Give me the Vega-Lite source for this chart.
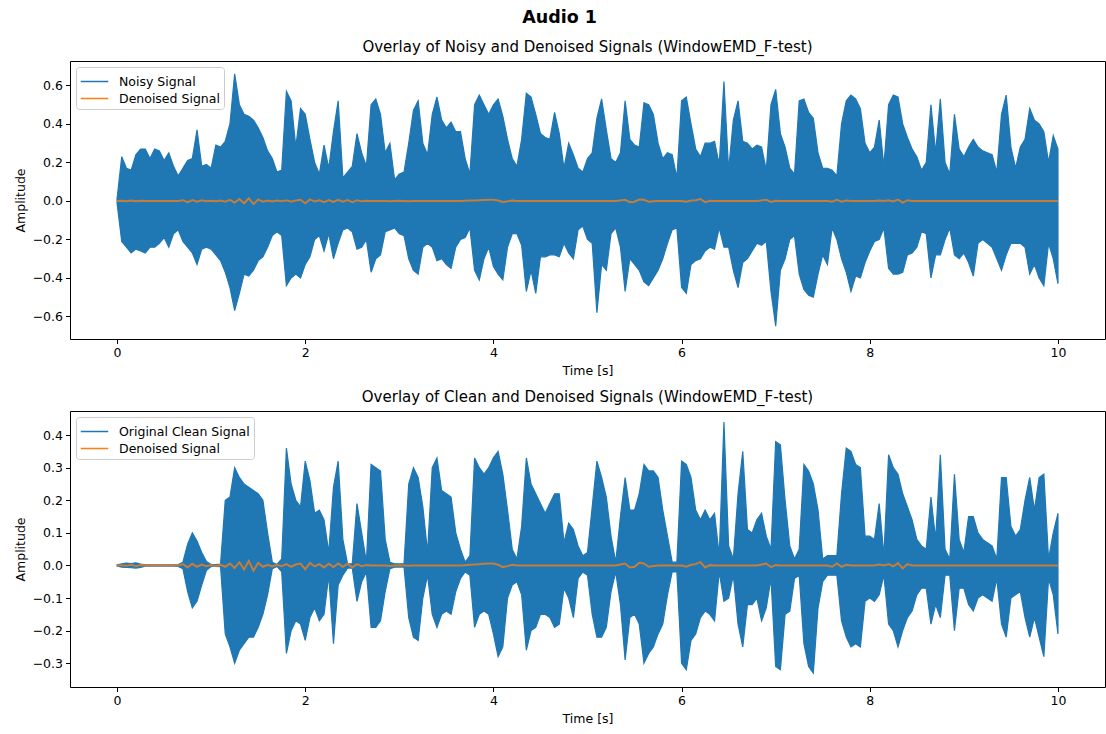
{
"$schema": "https://vega.github.io/schema/vega-lite/v6.json",
"padding": {"left": 13, "right": 1, "top": 9, "bottom": 4},
"config": {
  "font": "DejaVu Sans",
  "view": {"stroke": "black", "strokeWidth": 1},
  "axis": {"grid": false, "domain": false, "tickColor": "black", "tickSize": 4.5, "labelFontSize": 12.5, "labelColor": "black", "labelPadding": 3, "labelOverlap": false, "titleFontSize": 12.5, "titleFontWeight": "normal", "titleColor": "black", "titlePadding": 5},
  "title": {"fontSize": 15, "fontWeight": "normal", "color": "black", "offset": 6},
  "legend": {"orient": "top-left", "offset": 6, "padding": 4, "fillColor": "white", "strokeColor": "#cccccc", "cornerRadius": 3, "labelFontSize": 12.5, "labelColor": "black", "symbolType": "M-1.45,0H1.45", "symbolStrokeWidth": 1.5, "symbolSize": 361, "symbolOffset": 4, "rowPadding": 0, "labelOffset": 14}
},
"title": {"text": "Audio 1", "fontSize": 17.5, "fontWeight": "bold", "anchor": "middle", "offset": 13},
"data": {"values": [
{"t":0.00,"nh":0.01,"nl":-0.01,"ch":0.002,"cl":-0.002,"d":0},
{"t":0.05,"nh":0.23,"nl":-0.21,"ch":0.005,"cl":-0.005,"d":0.001},
{"t":0.10,"nh":0.17,"nl":-0.24,"ch":0.007,"cl":-0.006,"d":-0.001},
{"t":0.15,"nh":0.16,"nl":-0.27,"ch":0.006,"cl":-0.007,"d":0.002},
{"t":0.20,"nh":0.24,"nl":-0.25,"ch":0.008,"cl":-0.008,"d":-0.002},
{"t":0.25,"nh":0.27,"nl":-0.26,"ch":0.004,"cl":-0.006,"d":0.001},
{"t":0.30,"nh":0.27,"nl":-0.27,"ch":0.002,"cl":-0.002,"d":0},
{"t":0.35,"nh":0.22,"nl":-0.24,"ch":0.002,"cl":-0.002,"d":0},
{"t":0.40,"nh":0.27,"nl":-0.24,"ch":0.002,"cl":-0.002,"d":0},
{"t":0.45,"nh":0.26,"nl":-0.22,"ch":0.002,"cl":-0.002,"d":0},
{"t":0.50,"nh":0.21,"nl":-0.19,"ch":0.002,"cl":-0.002,"d":0},
{"t":0.55,"nh":0.25,"nl":-0.24,"ch":0.002,"cl":-0.002,"d":0},
{"t":0.60,"nh":0.18,"nl":-0.17,"ch":0.002,"cl":-0.002,"d":0},
{"t":0.65,"nh":0.13,"nl":-0.15,"ch":0.003,"cl":-0.003,"d":0},
{"t":0.70,"nh":0.17,"nl":-0.21,"ch":0.01,"cl":-0.01,"d":0.004},
{"t":0.75,"nh":0.21,"nl":-0.24,"ch":0.065,"cl":-0.08,"d":-0.006},
{"t":0.80,"nh":0.22,"nl":-0.27,"ch":0.10,"cl":-0.13,"d":0.005},
{"t":0.85,"nh":0.37,"nl":-0.33,"ch":0.075,"cl":-0.11,"d":-0.004},
{"t":0.90,"nh":0.18,"nl":-0.25,"ch":0.04,"cl":-0.06,"d":0.003},
{"t":0.95,"nh":0.19,"nl":-0.24,"ch":0.012,"cl":-0.015,"d":-0.002},
{"t":1.00,"nh":0.17,"nl":-0.25,"ch":0.003,"cl":-0.003,"d":0.001},
{"t":1.05,"nh":0.29,"nl":-0.28,"ch":0.003,"cl":-0.003,"d":-0.002},
{"t":1.10,"nh":0.28,"nl":-0.31,"ch":0.004,"cl":-0.004,"d":0.002},
{"t":1.15,"nh":0.31,"nl":-0.37,"ch":0.20,"cl":-0.21,"d":-0.004},
{"t":1.20,"nh":0.40,"nl":-0.45,"ch":0.21,"cl":-0.25,"d":0.006},
{"t":1.25,"nh":0.66,"nl":-0.57,"ch":0.30,"cl":-0.30,"d":-0.008},
{"t":1.30,"nh":0.50,"nl":-0.48,"ch":0.27,"cl":-0.26,"d":0.010},
{"t":1.35,"nh":0.45,"nl":-0.38,"ch":0.25,"cl":-0.24,"d":-0.012},
{"t":1.40,"nh":0.44,"nl":-0.39,"ch":0.24,"cl":-0.22,"d":0.014},
{"t":1.45,"nh":0.42,"nl":-0.36,"ch":0.23,"cl":-0.22,"d":-0.016},
{"t":1.50,"nh":0.38,"nl":-0.31,"ch":0.22,"cl":-0.19,"d":0.008},
{"t":1.55,"nh":0.33,"nl":-0.29,"ch":0.20,"cl":-0.15,"d":-0.004},
{"t":1.60,"nh":0.26,"nl":-0.24,"ch":0.10,"cl":-0.09,"d":0.002},
{"t":1.65,"nh":0.22,"nl":-0.18,"ch":0.01,"cl":-0.01,"d":-0.003},
{"t":1.70,"nh":0.15,"nl":-0.16,"ch":0.003,"cl":-0.003,"d":0.002},
{"t":1.75,"nh":0.16,"nl":-0.18,"ch":0.02,"cl":-0.02,"d":-0.002},
{"t":1.80,"nh":0.57,"nl":-0.44,"ch":0.36,"cl":-0.27,"d":0.004},
{"t":1.85,"nh":0.52,"nl":-0.40,"ch":0.25,"cl":-0.20,"d":-0.004},
{"t":1.90,"nh":0.28,"nl":-0.38,"ch":0.20,"cl":-0.17,"d":0.003},
{"t":1.95,"nh":0.48,"nl":-0.40,"ch":0.18,"cl":-0.18,"d":0.006},
{"t":2.00,"nh":0.45,"nl":-0.33,"ch":0.32,"cl":-0.23,"d":-0.012},
{"t":2.05,"nh":0.32,"nl":-0.29,"ch":0.26,"cl":-0.16,"d":0.008},
{"t":2.10,"nh":0.20,"nl":-0.20,"ch":0.16,"cl":-0.13,"d":-0.003},
{"t":2.15,"nh":0.14,"nl":-0.18,"ch":0.17,"cl":-0.17,"d":0.004},
{"t":2.20,"nh":0.29,"nl":-0.26,"ch":0.14,"cl":-0.15,"d":-0.006},
{"t":2.25,"nh":0.17,"nl":-0.17,"ch":0.04,"cl":-0.03,"d":0.005},
{"t":2.30,"nh":0.36,"nl":-0.30,"ch":0.24,"cl":-0.24,"d":-0.005},
{"t":2.35,"nh":0.52,"nl":-0.22,"ch":0.32,"cl":-0.06,"d":0.006},
{"t":2.40,"nh":0.12,"nl":-0.15,"ch":0.08,"cl":-0.03,"d":-0.004},
{"t":2.45,"nh":0.15,"nl":-0.14,"ch":0.005,"cl":-0.008,"d":0.005},
{"t":2.50,"nh":0.18,"nl":-0.16,"ch":0.005,"cl":-0.008,"d":-0.006},
{"t":2.55,"nh":0.35,"nl":-0.25,"ch":0.19,"cl":-0.11,"d":0.004},
{"t":2.60,"nh":0.25,"nl":-0.24,"ch":0.10,"cl":-0.05,"d":-0.002},
{"t":2.65,"nh":0.18,"nl":-0.20,"ch":0.01,"cl":-0.02,"d":0.001},
{"t":2.70,"nh":0.50,"nl":-0.37,"ch":0.31,"cl":-0.19,"d":0},
{"t":2.75,"nh":0.53,"nl":-0.30,"ch":0.30,"cl":-0.19,"d":0},
{"t":2.80,"nh":0.45,"nl":-0.28,"ch":0.29,"cl":-0.17,"d":0},
{"t":2.85,"nh":0.25,"nl":-0.16,"ch":0.08,"cl":-0.08,"d":0},
{"t":2.90,"nh":0.30,"nl":-0.15,"ch":0.01,"cl":-0.01,"d":-0.002},
{"t":2.95,"nh":0.11,"nl":-0.14,"ch":0.005,"cl":-0.005,"d":0},
{"t":3.00,"nh":0.14,"nl":-0.17,"ch":0.005,"cl":-0.005,"d":0.001},
{"t":3.05,"nh":0.15,"nl":-0.18,"ch":0.005,"cl":-0.005,"d":0},
{"t":3.10,"nh":0.30,"nl":-0.30,"ch":0.25,"cl":-0.16,"d":-0.001},
{"t":3.15,"nh":0.47,"nl":-0.36,"ch":0.30,"cl":-0.22,"d":0},
{"t":3.20,"nh":0.52,"nl":-0.38,"ch":0.27,"cl":-0.23,"d":0},
{"t":3.25,"nh":0.30,"nl":-0.24,"ch":0.18,"cl":-0.10,"d":0},
{"t":3.30,"nh":0.24,"nl":-0.22,"ch":0.04,"cl":-0.03,"d":0},
{"t":3.35,"nh":0.45,"nl":-0.24,"ch":0.30,"cl":-0.15,"d":0},
{"t":3.40,"nh":0.54,"nl":-0.31,"ch":0.33,"cl":-0.19,"d":0},
{"t":3.45,"nh":0.42,"nl":-0.30,"ch":0.23,"cl":-0.15,"d":0},
{"t":3.50,"nh":0.38,"nl":-0.33,"ch":0.22,"cl":-0.14,"d":0},
{"t":3.55,"nh":0.41,"nl":-0.35,"ch":0.21,"cl":-0.15,"d":0},
{"t":3.60,"nh":0.36,"nl":-0.24,"ch":0.10,"cl":-0.08,"d":0},
{"t":3.65,"nh":0.36,"nl":-0.20,"ch":0.05,"cl":-0.04,"d":0},
{"t":3.70,"nh":0.22,"nl":-0.19,"ch":0.01,"cl":-0.02,"d":0.001},
{"t":3.75,"nh":0.14,"nl":-0.14,"ch":0.03,"cl":-0.03,"d":0.002},
{"t":3.80,"nh":0.50,"nl":-0.36,"ch":0.33,"cl":-0.19,"d":0.003},
{"t":3.85,"nh":0.55,"nl":-0.41,"ch":0.30,"cl":-0.15,"d":0.004},
{"t":3.90,"nh":0.50,"nl":-0.30,"ch":0.28,"cl":-0.14,"d":0.005},
{"t":3.95,"nh":0.45,"nl":-0.24,"ch":0.30,"cl":-0.15,"d":0.006},
{"t":4.00,"nh":0.50,"nl":-0.34,"ch":0.33,"cl":-0.21,"d":0.006},
{"t":4.05,"nh":0.53,"nl":-0.38,"ch":0.35,"cl":-0.28,"d":0.002},
{"t":4.10,"nh":0.44,"nl":-0.41,"ch":0.28,"cl":-0.25,"d":-0.005},
{"t":4.15,"nh":0.32,"nl":-0.24,"ch":0.17,"cl":-0.10,"d":-0.002},
{"t":4.20,"nh":0.22,"nl":-0.17,"ch":0.05,"cl":-0.06,"d":0.002},
{"t":4.25,"nh":0.18,"nl":-0.17,"ch":0.02,"cl":-0.05,"d":0},
{"t":4.30,"nh":0.32,"nl":-0.23,"ch":0.12,"cl":-0.09,"d":0},
{"t":4.35,"nh":0.56,"nl":-0.47,"ch":0.33,"cl":-0.26,"d":0},
{"t":4.40,"nh":0.54,"nl":-0.36,"ch":0.25,"cl":-0.20,"d":0},
{"t":4.45,"nh":0.45,"nl":-0.48,"ch":0.22,"cl":-0.19,"d":0},
{"t":4.50,"nh":0.35,"nl":-0.29,"ch":0.19,"cl":-0.15,"d":0},
{"t":4.55,"nh":0.33,"nl":-0.29,"ch":0.16,"cl":-0.15,"d":0},
{"t":4.60,"nh":0.32,"nl":-0.28,"ch":0.19,"cl":-0.16,"d":0},
{"t":4.65,"nh":0.46,"nl":-0.28,"ch":0.22,"cl":-0.19,"d":0},
{"t":4.70,"nh":0.35,"nl":-0.29,"ch":0.22,"cl":-0.18,"d":0},
{"t":4.75,"nh":0.17,"nl":-0.22,"ch":0.07,"cl":-0.07,"d":0},
{"t":4.80,"nh":0.30,"nl":-0.27,"ch":0.13,"cl":-0.10,"d":0},
{"t":4.85,"nh":0.24,"nl":-0.30,"ch":0.11,"cl":-0.16,"d":0},
{"t":4.90,"nh":0.17,"nl":-0.15,"ch":0.06,"cl":-0.04,"d":0},
{"t":4.95,"nh":0.15,"nl":-0.13,"ch":0.03,"cl":-0.02,"d":0},
{"t":5.00,"nh":0.22,"nl":-0.20,"ch":0.04,"cl":-0.03,"d":0},
{"t":5.05,"nh":0.25,"nl":-0.22,"ch":0.18,"cl":-0.15,"d":0},
{"t":5.10,"nh":0.43,"nl":-0.58,"ch":0.32,"cl":-0.22,"d":0},
{"t":5.15,"nh":0.53,"nl":-0.33,"ch":0.27,"cl":-0.22,"d":0},
{"t":5.20,"nh":0.37,"nl":-0.36,"ch":0.21,"cl":-0.19,"d":0},
{"t":5.25,"nh":0.22,"nl":-0.17,"ch":0.09,"cl":-0.08,"d":0},
{"t":5.30,"nh":0.20,"nl":-0.14,"ch":0.01,"cl":-0.02,"d":0},
{"t":5.35,"nh":0.25,"nl":-0.24,"ch":0.15,"cl":-0.12,"d":0.003},
{"t":5.40,"nh":0.52,"nl":-0.47,"ch":0.27,"cl":-0.29,"d":0.006},
{"t":5.45,"nh":0.32,"nl":-0.30,"ch":0.17,"cl":-0.16,"d":-0.006},
{"t":5.50,"nh":0.29,"nl":-0.33,"ch":0.17,"cl":-0.15,"d":-0.004},
{"t":5.55,"nh":0.28,"nl":-0.36,"ch":0.22,"cl":-0.18,"d":0.008},
{"t":5.60,"nh":0.51,"nl":-0.42,"ch":0.31,"cl":-0.30,"d":0.006},
{"t":5.65,"nh":0.50,"nl":-0.44,"ch":0.29,"cl":-0.27,"d":-0.004},
{"t":5.70,"nh":0.45,"nl":-0.40,"ch":0.29,"cl":-0.25,"d":-0.002},
{"t":5.75,"nh":0.30,"nl":-0.36,"ch":0.27,"cl":-0.21,"d":0},
{"t":5.80,"nh":0.22,"nl":-0.30,"ch":0.17,"cl":-0.18,"d":0},
{"t":5.85,"nh":0.25,"nl":-0.22,"ch":0.09,"cl":-0.09,"d":0},
{"t":5.90,"nh":0.24,"nl":-0.15,"ch":0.01,"cl":-0.02,"d":0},
{"t":5.95,"nh":0.12,"nl":-0.14,"ch":0.01,"cl":-0.02,"d":0},
{"t":6.00,"nh":0.52,"nl":-0.45,"ch":0.32,"cl":-0.30,"d":0},
{"t":6.05,"nh":0.54,"nl":-0.48,"ch":0.31,"cl":-0.32,"d":-0.004},
{"t":6.10,"nh":0.40,"nl":-0.33,"ch":0.27,"cl":-0.23,"d":0.002},
{"t":6.15,"nh":0.27,"nl":-0.31,"ch":0.17,"cl":-0.21,"d":0.004},
{"t":6.20,"nh":0.23,"nl":-0.30,"ch":0.14,"cl":-0.16,"d":0.010},
{"t":6.25,"nh":0.30,"nl":-0.26,"ch":0.17,"cl":-0.14,"d":-0.006},
{"t":6.30,"nh":0.30,"nl":-0.24,"ch":0.14,"cl":-0.15,"d":0.001},
{"t":6.35,"nh":0.31,"nl":-0.25,"ch":0.16,"cl":-0.17,"d":0},
{"t":6.40,"nh":0.19,"nl":-0.14,"ch":0.03,"cl":-0.02,"d":0},
{"t":6.45,"nh":0.62,"nl":-0.24,"ch":0.44,"cl":-0.11,"d":0},
{"t":6.50,"nh":0.16,"nl":-0.24,"ch":0.06,"cl":-0.10,"d":0},
{"t":6.55,"nh":0.42,"nl":-0.36,"ch":0.02,"cl":-0.03,"d":0},
{"t":6.60,"nh":0.52,"nl":-0.45,"ch":0.22,"cl":-0.18,"d":0},
{"t":6.65,"nh":0.31,"nl":-0.32,"ch":0.35,"cl":-0.25,"d":0},
{"t":6.70,"nh":0.30,"nl":-0.30,"ch":0.11,"cl":-0.12,"d":0},
{"t":6.75,"nh":0.27,"nl":-0.26,"ch":0.10,"cl":-0.12,"d":0},
{"t":6.80,"nh":0.29,"nl":-0.22,"ch":0.14,"cl":-0.10,"d":0},
{"t":6.85,"nh":0.28,"nl":-0.23,"ch":0.16,"cl":-0.17,"d":0.003},
{"t":6.90,"nh":0.16,"nl":-0.21,"ch":0.09,"cl":-0.13,"d":0.006},
{"t":6.95,"nh":0.50,"nl":-0.47,"ch":0.05,"cl":-0.04,"d":-0.005},
{"t":7.00,"nh":0.58,"nl":-0.65,"ch":0.38,"cl":-0.31,"d":0.001},
{"t":7.05,"nh":0.35,"nl":-0.36,"ch":0.37,"cl":-0.32,"d":0},
{"t":7.10,"nh":0.28,"nl":-0.30,"ch":0.20,"cl":-0.15,"d":0},
{"t":7.15,"nh":0.17,"nl":-0.20,"ch":0.06,"cl":-0.14,"d":0},
{"t":7.20,"nh":0.14,"nl":-0.18,"ch":0.02,"cl":-0.04,"d":0},
{"t":7.25,"nh":0.52,"nl":-0.38,"ch":0.05,"cl":-0.03,"d":0},
{"t":7.30,"nh":0.53,"nl":-0.46,"ch":0.31,"cl":-0.24,"d":0},
{"t":7.35,"nh":0.46,"nl":-0.49,"ch":0.29,"cl":-0.31,"d":0},
{"t":7.40,"nh":0.43,"nl":-0.50,"ch":0.25,"cl":-0.33,"d":0},
{"t":7.45,"nh":0.25,"nl":-0.38,"ch":0.17,"cl":-0.13,"d":0},
{"t":7.50,"nh":0.17,"nl":-0.28,"ch":0.02,"cl":-0.05,"d":0},
{"t":7.55,"nh":0.17,"nl":-0.33,"ch":0.03,"cl":-0.03,"d":0},
{"t":7.60,"nh":0.16,"nl":-0.14,"ch":0.03,"cl":-0.03,"d":-0.004},
{"t":7.65,"nh":0.13,"nl":-0.20,"ch":0.03,"cl":-0.03,"d":0.006},
{"t":7.70,"nh":0.40,"nl":-0.30,"ch":0.22,"cl":-0.17,"d":-0.004},
{"t":7.75,"nh":0.52,"nl":-0.37,"ch":0.36,"cl":-0.22,"d":0.002},
{"t":7.80,"nh":0.55,"nl":-0.47,"ch":0.35,"cl":-0.25,"d":0},
{"t":7.85,"nh":0.53,"nl":-0.39,"ch":0.31,"cl":-0.24,"d":0},
{"t":7.90,"nh":0.48,"nl":-0.40,"ch":0.30,"cl":-0.25,"d":0},
{"t":7.95,"nh":0.30,"nl":-0.32,"ch":0.09,"cl":-0.11,"d":0},
{"t":8.00,"nh":0.25,"nl":-0.26,"ch":0.09,"cl":-0.10,"d":0},
{"t":8.05,"nh":0.28,"nl":-0.21,"ch":0.08,"cl":-0.11,"d":0},
{"t":8.10,"nh":0.42,"nl":-0.20,"ch":0.19,"cl":-0.09,"d":0.003},
{"t":8.15,"nh":0.18,"nl":-0.14,"ch":0.03,"cl":-0.03,"d":0},
{"t":8.20,"nh":0.50,"nl":-0.35,"ch":0.34,"cl":-0.18,"d":0.004},
{"t":8.25,"nh":0.55,"nl":-0.38,"ch":0.30,"cl":-0.20,"d":-0.003},
{"t":8.30,"nh":0.54,"nl":-0.38,"ch":0.28,"cl":-0.25,"d":0.007},
{"t":8.35,"nh":0.40,"nl":-0.37,"ch":0.22,"cl":-0.20,"d":-0.009},
{"t":8.40,"nh":0.33,"nl":-0.28,"ch":0.18,"cl":-0.16,"d":0.004},
{"t":8.45,"nh":0.27,"nl":-0.27,"ch":0.14,"cl":-0.14,"d":0},
{"t":8.50,"nh":0.23,"nl":-0.24,"ch":0.08,"cl":-0.09,"d":0},
{"t":8.55,"nh":0.16,"nl":-0.16,"ch":0.06,"cl":-0.07,"d":0},
{"t":8.60,"nh":0.20,"nl":-0.17,"ch":0.05,"cl":-0.07,"d":0},
{"t":8.65,"nh":0.50,"nl":-0.40,"ch":0.21,"cl":-0.18,"d":0},
{"t":8.70,"nh":0.25,"nl":-0.28,"ch":0.08,"cl":-0.12,"d":0},
{"t":8.75,"nh":0.53,"nl":-0.28,"ch":0.34,"cl":-0.16,"d":0},
{"t":8.80,"nh":0.20,"nl":-0.20,"ch":0.05,"cl":-0.03,"d":0},
{"t":8.85,"nh":0.14,"nl":-0.14,"ch":0.02,"cl":-0.03,"d":0},
{"t":8.90,"nh":0.45,"nl":-0.28,"ch":0.28,"cl":-0.20,"d":0},
{"t":8.95,"nh":0.27,"nl":-0.30,"ch":0.08,"cl":-0.07,"d":0},
{"t":9.00,"nh":0.23,"nl":-0.27,"ch":0.04,"cl":-0.07,"d":0},
{"t":9.05,"nh":0.28,"nl":-0.32,"ch":0.15,"cl":-0.12,"d":0},
{"t":9.10,"nh":0.32,"nl":-0.39,"ch":0.15,"cl":-0.14,"d":0},
{"t":9.15,"nh":0.28,"nl":-0.22,"ch":0.10,"cl":-0.10,"d":0},
{"t":9.20,"nh":0.26,"nl":-0.20,"ch":0.08,"cl":-0.09,"d":0},
{"t":9.25,"nh":0.25,"nl":-0.22,"ch":0.07,"cl":-0.10,"d":0},
{"t":9.30,"nh":0.24,"nl":-0.24,"ch":0.06,"cl":-0.11,"d":0},
{"t":9.35,"nh":0.15,"nl":-0.30,"ch":0.02,"cl":-0.04,"d":0},
{"t":9.40,"nh":0.45,"nl":-0.36,"ch":0.27,"cl":-0.18,"d":0},
{"t":9.45,"nh":0.55,"nl":-0.28,"ch":0.27,"cl":-0.22,"d":0},
{"t":9.50,"nh":0.28,"nl":-0.22,"ch":0.12,"cl":-0.10,"d":0},
{"t":9.55,"nh":0.17,"nl":-0.22,"ch":0.09,"cl":-0.09,"d":0},
{"t":9.60,"nh":0.28,"nl":-0.22,"ch":0.11,"cl":-0.08,"d":0},
{"t":9.65,"nh":0.32,"nl":-0.24,"ch":0.20,"cl":-0.16,"d":0},
{"t":9.70,"nh":0.48,"nl":-0.38,"ch":0.27,"cl":-0.22,"d":0},
{"t":9.75,"nh":0.42,"nl":-0.33,"ch":0.17,"cl":-0.16,"d":0},
{"t":9.80,"nh":0.40,"nl":-0.40,"ch":0.27,"cl":-0.22,"d":0},
{"t":9.85,"nh":0.36,"nl":-0.44,"ch":0.28,"cl":-0.28,"d":0},
{"t":9.90,"nh":0.20,"nl":-0.22,"ch":0.02,"cl":-0.04,"d":0},
{"t":9.95,"nh":0.34,"nl":-0.30,"ch":0.10,"cl":-0.09,"d":0},
{"t":10.00,"nh":0.27,"nl":-0.43,"ch":0.16,"cl":-0.21,"d":0}
]},
"spacing": 12,
"resolve": {"scale": {"color": "independent"}},
"vconcat": [
{
  "width": 1035, "height": 278,
  "title": "Overlay of Noisy and Denoised Signals (WindowEMD_F-test)",
  "layer": [
    {"mark": {"type": "area", "strokeWidth": 1.2, "strokeJoin": "miter"},
     "encoding": {
       "x": {"field": "t", "type": "quantitative", "scale": {"domain": [-0.5, 10.5], "nice": false, "zero": false}, "axis": {"values": [0, 2, 4, 6, 8, 10], "tickCount": 20, "format": "d", "title": "Time [s]", "labelOverlap": false}},
       "y": {"field": "nh", "type": "quantitative", "scale": {"domain": [-0.717, 0.727], "nice": false, "zero": false}, "axis": {"values": [-0.6, -0.4, -0.2, 0, 0.2, 0.4, 0.6], "tickCount": 20, "format": ".1f", "title": "Amplitude", "labelOverlap": false}},
       "y2": {"field": "nl"},
       "color": {"datum": "Noisy Signal", "scale": {"domain": ["Noisy Signal", "Denoised Signal"], "range": ["#1f77b4", "#ff7f0e"]}, "legend": {"title": null}},
       "stroke": {"datum": "Noisy Signal", "scale": {"domain": ["Noisy Signal", "Denoised Signal"], "range": ["#1f77b4", "#ff7f0e"]}, "legend": null}
     }},
    {"mark": {"type": "line", "strokeWidth": 2, "opacity": 0.75},
     "encoding": {
       "x": {"field": "t", "type": "quantitative"},
       "y": {"field": "d", "type": "quantitative"},
       "color": {"datum": "Denoised Signal"}
     }}
  ]
},
{
  "width": 1035, "height": 276,
  "title": "Overlay of Clean and Denoised Signals (WindowEMD_F-test)",
  "layer": [
    {"mark": {"type": "area", "strokeWidth": 1.2, "strokeJoin": "miter"},
     "encoding": {
       "x": {"field": "t", "type": "quantitative", "scale": {"domain": [-0.5, 10.5], "nice": false, "zero": false}, "axis": {"values": [0, 2, 4, 6, 8, 10], "tickCount": 20, "format": "d", "title": "Time [s]", "labelOverlap": false}},
       "y": {"field": "ch", "type": "quantitative", "scale": {"domain": [-0.373, 0.474], "nice": false, "zero": false}, "axis": {"values": [-0.3, -0.2, -0.1, 0, 0.1, 0.2, 0.3, 0.4], "tickCount": 20, "format": ".1f", "title": "Amplitude", "labelOverlap": false}},
       "y2": {"field": "cl"},
       "color": {"datum": "Original Clean Signal", "scale": {"domain": ["Original Clean Signal", "Denoised Signal"], "range": ["#1f77b4", "#ff7f0e"]}, "legend": {"title": null}},
       "stroke": {"datum": "Original Clean Signal", "scale": {"domain": ["Original Clean Signal", "Denoised Signal"], "range": ["#1f77b4", "#ff7f0e"]}, "legend": null}
     }},
    {"mark": {"type": "line", "strokeWidth": 2, "opacity": 0.75},
     "encoding": {
       "x": {"field": "t", "type": "quantitative"},
       "y": {"field": "d", "type": "quantitative"},
       "color": {"datum": "Denoised Signal"}
     }}
  ]
}
]
}
